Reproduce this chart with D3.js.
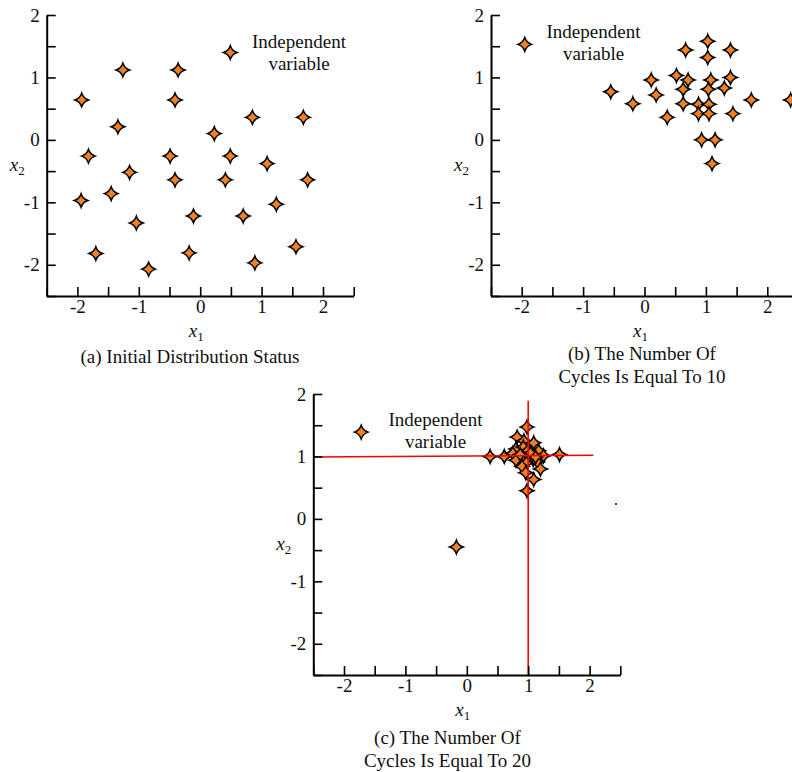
<!DOCTYPE html>
<html><head><meta charset="utf-8">
<script src="https://cdn.jsdelivr.net/npm/d3@7/dist/d3.min.js"></script>
<style>html,body{margin:0;padding:0;background:#fff;} svg{display:block;}</style>
</head><body><svg id="chart" width="792" height="772"></svg>
<script>
// ---------- data ----------
const xDomain = [-2.5, 2.5];
const yDomain = [-2.5, 2];
const xTicks = [-2.5, -2, -1.5, -1, -0.5, 0, 0.5, 1, 1.5, 2, 2.5];
const yTicks = [-2.5, -2, -1.5, -1, -0.5, 0, 0.5, 1, 1.5, 2];
const tickLabels = [-2, -1, 0, 1, 2];

const legendLabel = ["Independent", "variable"];

const pointsA = [
  [-1.26, 1.12], [-0.36, 1.12], [-1.93, 0.64], [-0.41, 0.64], [0.85, 0.36], [1.68, 0.36],
  [-1.34, 0.21], [0.23, 0.10], [-1.82, -0.26], [-0.49, -0.26], [0.49, -0.26], [1.09, -0.38],
  [-1.15, -0.52], [-0.41, -0.64], [0.41, -0.64], [1.75, -0.64], [-1.45, -0.86], [-1.94, -0.97],
  [1.24, -1.03], [-0.11, -1.22], [0.70, -1.22], [-1.04, -1.33], [1.56, -1.71], [-1.70, -1.82],
  [-0.18, -1.81], [0.89, -1.97], [-0.84, -2.07]
];
const legendStarA = [0.49, 1.40];

const pointsB = [
  [1.03, 1.58], [0.67, 1.44], [1.40, 1.44], [1.03, 1.32], [-0.55, 0.77], [-0.19, 0.58],
  [0.11, 0.96], [0.19, 0.72], [0.52, 1.03], [0.71, 0.96], [0.63, 0.81], [0.63, 0.58],
  [0.37, 0.36], [0.88, 0.57], [1.05, 0.57], [0.88, 0.42], [1.05, 0.42], [1.08, 0.96],
  [1.04, 0.81], [1.30, 0.83], [1.40, 1.00], [1.44, 0.42], [0.93, 0.00], [1.15, 0.00],
  [1.10, -0.38], [1.74, 0.64], [2.38, 0.64]
];
const legendStarB = [-1.95, 1.53];

const pointsC = [
  [0.98, 1.47], [0.82, 1.31], [0.93, 1.25], [1.09, 1.22], [0.80, 1.12], [0.92, 1.15],
  [1.00, 1.10], [1.17, 1.09], [1.51, 1.03], [0.38, 1.00], [0.61, 1.00], [0.75, 1.05],
  [1.25, 1.01], [0.88, 0.96], [1.08, 0.95], [0.80, 0.94], [0.97, 0.90], [1.15, 0.91],
  [0.90, 0.84], [1.20, 0.80], [0.96, 0.74], [1.09, 0.63], [0.98, 0.45], [1.04, 1.05],
  [0.87, 1.03], [1.12, 0.99], [-0.17, -0.45]
];
const legendStarC = [-1.72, 1.39];
const redLinesC = [
  [[-2.5, 0.99], [2.06, 1.02]],
  [[1.0, 1.89], [1.0, -2.5]]
];
const strayDotC = [2.43, 0.24];

const captionA = ["(a) Initial Distribution Status"];
const captionB = ["(b) The Number Of", "Cycles Is Equal To 10"];
const captionC = ["(c) The Number Of", "Cycles Is Equal To 20"];

// ---------- layout ----------
const FONT = "'Liberation Serif', 'Times New Roman', Times, serif";
const FS = 19;
const PW = 307, PH = 281;
const panels = [
  { pts: pointsA, star: legendStarA, left: 46.7, top: 15, legend: [299, 47.7], caption: captionA, capPos: [190, 363], red: [], dot: null },
  { pts: pointsB, star: legendStarB, left: 491, top: 15, legend: [593.5, 38.3], caption: captionB, capPos: [642, 360], red: [], dot: null },
  { pts: pointsC, star: legendStarC, left: 313.3, top: 394, legend: [435.5, 425.7], caption: captionC, capPos: [447.5, 744], red: redLinesC, dot: strayDotC }
];

const svg = d3.select("#chart");
svg.append("rect").attr("width", 792).attr("height", 772).attr("fill", "#fff");

const R = 6.8, C = 0.25 * R;
const starPath = `M0,${-R} Q${C},${-C} ${R},0 Q${C},${C} 0,${R} Q${-C},${C} ${-R},0 Q${-C},${-C} 0,${-R} Z`;
const fmt = d => (d < 0 ? "-" + Math.abs(d) : String(d));
const labelFmt = d => tickLabels.includes(d) ? fmt(d) : "";

panels.forEach(p => {
  const x = d3.scaleLinear().domain(xDomain).range([0, PW]);
  const y = d3.scaleLinear().domain(yDomain).range([PH, 0]);
  const g = svg.append("g").attr("transform", `translate(${p.left},${p.top})`);

  // markers
  const all = p.pts.concat([p.star]);
  g.selectAll("path.star").data(all).join("path")
    .attr("class", "star")
    .attr("d", starPath)
    .attr("transform", d => `translate(${x(d[0])},${y(d[1])})`)
    .attr("fill", "#f28020").attr("stroke", "#000").attr("stroke-width", 1.5)
    .attr("stroke-linejoin", "miter");

  // red reference lines
  g.selectAll("line.red").data(p.red).join("line")
    .attr("class", "red")
    .attr("x1", d => x(d[0][0])).attr("y1", d => y(d[0][1]))
    .attr("x2", d => x(d[1][0])).attr("y2", d => y(d[1][1]))
    .attr("stroke", "#ff0000").attr("stroke-width", 1.6);

  if (p.dot) {
    g.append("circle").attr("cx", x(p.dot[0])).attr("cy", y(p.dot[1])).attr("r", 1).attr("fill", "#000");
  }

  // axes
  const xa = g.append("g").attr("transform", `translate(0,${PH})`)
    .call(d3.axisBottom(x).tickValues(xTicks).tickSizeInner(-9).tickSizeOuter(0).tickPadding(4).tickFormat(labelFmt));
  const ya = g.append("g")
    .call(d3.axisLeft(y).tickValues(yTicks).tickSizeInner(-9).tickSizeOuter(0).tickPadding(7).tickFormat(labelFmt));
  [xa, ya].forEach(a => {
    a.select(".domain").attr("stroke", "#000").attr("stroke-width", 2);
    a.selectAll(".tick line").attr("stroke", "#000").attr("stroke-width", 1.6);
    a.selectAll(".tick text").attr("fill", "#111").style("font-family", FONT).style("font-size", FS + "px");
  });

  // axis labels
  const xl = g.append("text").attr("x", 149.5).attr("y", 322).attr("text-anchor", "middle")
    .style("font-family", FONT).style("font-size", FS + "px").attr("fill", "#111");
  xl.append("tspan").style("font-style", "italic").text("x");
  xl.append("tspan").attr("dy", 4).style("font-size", "13px").text("1");
  const yl = g.append("text").attr("x", -29.5).attr("y", 156).attr("text-anchor", "middle")
    .style("font-family", FONT).style("font-size", FS + "px").attr("fill", "#111");
  yl.append("tspan").style("font-style", "italic").text("x");
  yl.append("tspan").attr("dy", 4).style("font-size", "13px").text("2");

  // legend text
  svg.append("g").selectAll("text").data(legendLabel).join("text")
    .attr("x", p.legend[0]).attr("y", (d, i) => p.legend[1] + i * 21.8)
    .attr("text-anchor", "middle").style("font-family", FONT).style("font-size", FS + "px")
    .attr("fill", "#111").text(d => d);

  // caption
  svg.append("g").selectAll("text").data(p.caption).join("text")
    .attr("x", p.capPos[0]).attr("y", (d, i) => p.capPos[1] + i * 22.8)
    .attr("text-anchor", "middle").style("font-family", FONT).style("font-size", FS + "px")
    .attr("fill", "#111").text(d => d);
});
</script>
</body></html>
